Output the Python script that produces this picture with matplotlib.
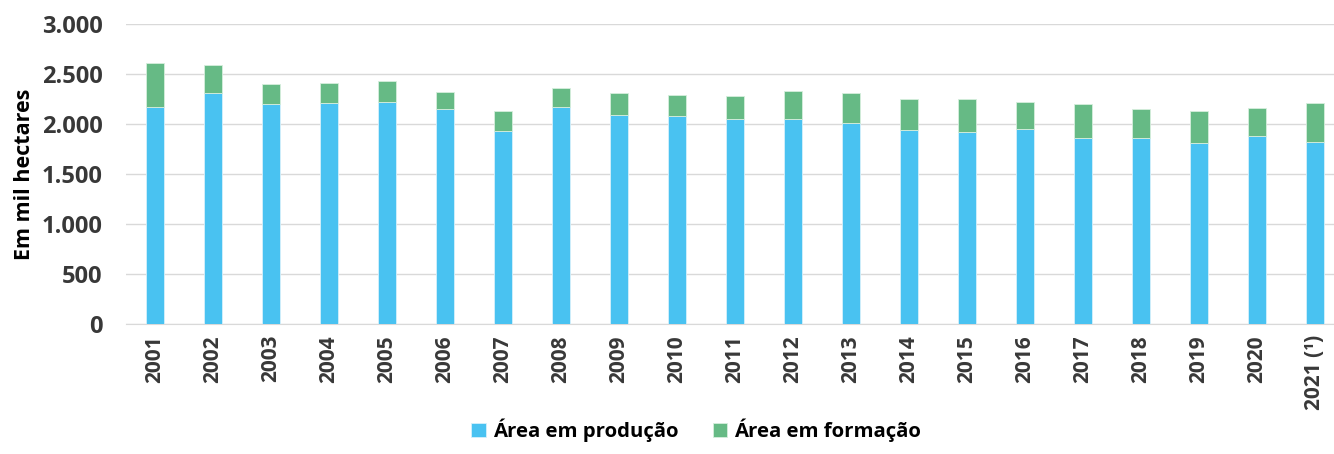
import matplotlib.pyplot as plt
import numpy as np

anos = ['2001', '2002', '2003', '2004', '2005', '2006', '2007', '2008', '2009', '2010',
        '2011', '2012', '2013', '2014', '2015', '2016', '2017', '2018', '2019', '2020',
        '2021 (¹)']
producao = [2173, 2307, 2197, 2210, 2217, 2147, 1933, 2167, 2087, 2077,
            2050, 2047, 2013, 1943, 1917, 1947, 1860, 1860, 1810, 1880, 1823]
total = [2613, 2593, 2403, 2413, 2433, 2320, 2127, 2360, 2310, 2290,
         2277, 2327, 2307, 2250, 2247, 2220, 2203, 2153, 2127, 2157, 2213]
formacao = [t - p for t, p in zip(total, producao)]

plt.rcParams['font.family'] = ['Open Sans', 'DejaVu Sans']

fig = plt.figure(figsize=(13.34, 4.54), dpi=100)
ax = fig.add_axes([126 / 1334, 1 - 324 / 454, 1218 / 1334, 300 / 454])

x = np.arange(len(anos))
ax.bar(x, producao, width=0.31, color='#49C2F1', edgecolor='#d6f0fb', linewidth=0.6,
       label='Área em produção', zorder=3)
ax.bar(x, formacao, width=0.31, bottom=producao, color='#66BA85', edgecolor='#d6eedd',
       linewidth=0.6, label='Área em formação', zorder=3)

ax.set_xlim(-0.5, len(anos) - 0.5)
ax.set_ylim(0, 3000)
ax.set_yticks(np.arange(0, 3001, 500))
ax.set_yticklabels(['0', '500', '1.000', '1.500', '2.000', '2.500', '3.000'])
ax.set_xticks(x)
ax.set_xticklabels(anos, rotation=90)
ax.grid(axis='y', color='#d9d9d9', linewidth=1, zorder=0)
for s in ['top', 'right', 'left']:
    ax.spines[s].set_visible(False)
ax.spines['bottom'].set_color('#d9d9d9')
ax.tick_params(axis='both', length=0, labelcolor='#383838')
ax.tick_params(axis='x', pad=8, labelsize=15)
ax.tick_params(axis='y', pad=17, labelsize=17)
for lbl in ax.get_xticklabels() + ax.get_yticklabels():
    lbl.set_fontweight('bold')

ax.set_ylabel('Em mil hectares', fontsize=15.5, fontweight='bold', color='black', labelpad=5)

fig.legend(loc='lower center', bbox_to_anchor=(0.522, -0.015), ncol=2, frameon=False,
           prop={'size': 14.7, 'weight': 'bold'}, handlelength=0.7, handleheight=0.7,
           columnspacing=1.7, handletextpad=0.35)

fig.savefig('out.png', dpi=100)
